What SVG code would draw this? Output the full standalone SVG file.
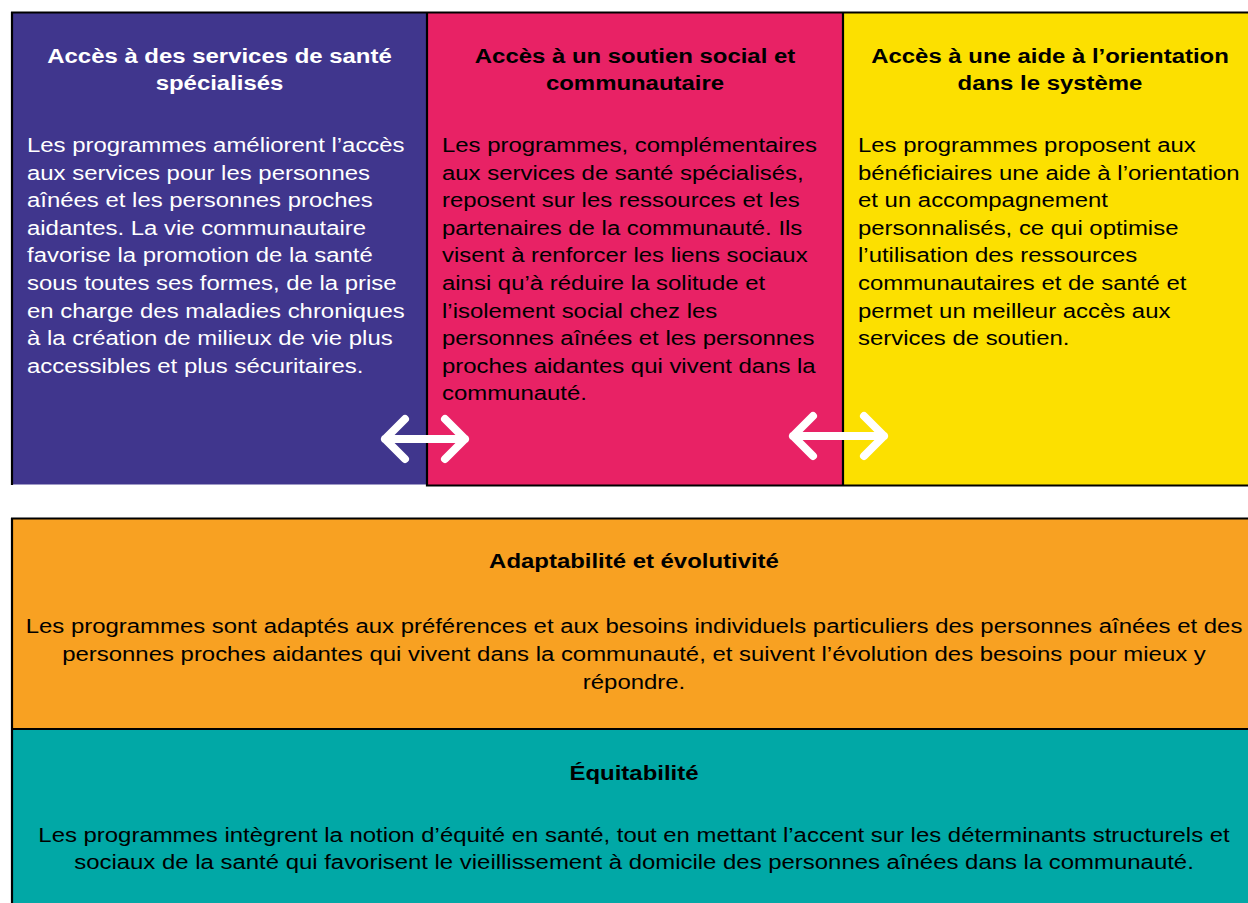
<svg xmlns="http://www.w3.org/2000/svg" width="1248" height="903" viewBox="0 0 1248 903">
<style>
.t{font-family:"Liberation Sans",Arial,Helvetica,sans-serif;font-size:21px}
.b{font-weight:bold}
.w{fill:#ffffff}
.k{fill:#000000}
.c{text-anchor:middle}
.edge{stroke:#000;stroke-width:2.2;fill:none}
.arrow{stroke:#ffffff;stroke-width:8;fill:none;stroke-linecap:round;stroke-linejoin:round}
</style>
<rect width="1248" height="903" fill="#ffffff"/>

<g id="node-sante">
<rect x="12" y="12" width="415" height="472.5" fill="#40368d"/>
<g transform="translate(219.5,0) scale(1.14,1)">
<text class="t b w c" x="0" y="63">Accès à des services de santé</text>
<text class="t b w c" x="0" y="90">spécialisés</text>
</g>
<g transform="translate(27,0) scale(1.14,1)">
<text class="t w" x="0" y="152">Les programmes améliorent l’accès</text>
<text class="t w" x="0" y="179.6">aux services pour les personnes</text>
<text class="t w" x="0" y="207.2">aînées et les personnes proches</text>
<text class="t w" x="0" y="234.8">aidantes. La vie communautaire</text>
<text class="t w" x="0" y="262.4">favorise la promotion de la santé</text>
<text class="t w" x="0" y="290">sous toutes ses formes, de la prise</text>
<text class="t w" x="0" y="317.6">en charge des maladies chroniques</text>
<text class="t w" x="0" y="345.2">à la création de milieux de vie plus</text>
<text class="t w" x="0" y="372.8">accessibles et plus sécuritaires.</text>
</g>
</g>

<g id="node-soutien">
<rect x="427" y="12" width="416" height="473.5" fill="#e82265"/>
<g transform="translate(635,0) scale(1.14,1)">
<text class="t b k c" x="0" y="63">Accès à un soutien social et</text>
<text class="t b k c" x="0" y="90">communautaire</text>
</g>
<g transform="translate(442,0) scale(1.14,1)">
<text class="t k" x="0" y="152">Les programmes, complémentaires</text>
<text class="t k" x="0" y="179.6">aux services de santé spécialisés,</text>
<text class="t k" x="0" y="207.2">reposent sur les ressources et les</text>
<text class="t k" x="0" y="234.8">partenaires de la communauté. Ils</text>
<text class="t k" x="0" y="262.4">visent à renforcer les liens sociaux</text>
<text class="t k" x="0" y="290">ainsi qu’à réduire la solitude et</text>
<text class="t k" x="0" y="317.6">l’isolement social chez les</text>
<text class="t k" x="0" y="345.2">personnes aînées et les personnes</text>
<text class="t k" x="0" y="372.8">proches aidantes qui vivent dans la</text>
<text class="t k" x="0" y="400.4">communauté.</text>
</g>
</g>

<g id="node-orientation">
<rect x="843" y="12" width="420" height="473.5" fill="#fce000"/>
<g transform="translate(1050,0) scale(1.14,1)">
<text class="t b k c" x="0" y="63">Accès à une aide à l’orientation</text>
<text class="t b k c" x="0" y="90">dans le système</text>
</g>
<g transform="translate(858,0) scale(1.14,1)">
<text class="t k" x="0" y="152">Les programmes proposent aux</text>
<text class="t k" x="0" y="179.6">bénéficiaires une aide à l’orientation</text>
<text class="t k" x="0" y="207.2">et un accompagnement</text>
<text class="t k" x="0" y="234.8">personnalisés, ce qui optimise</text>
<text class="t k" x="0" y="262.4">l’utilisation des ressources</text>
<text class="t k" x="0" y="290">communautaires et de santé et</text>
<text class="t k" x="0" y="317.6">permet un meilleur accès aux</text>
<text class="t k" x="0" y="345.2">services de soutien.</text>
</g>
</g>

<g id="node-adaptabilite">
<rect x="12" y="518.5" width="1250" height="210.5" fill="#f8a122"/>
<g transform="translate(634,0) scale(1.14,1)">
<text class="t b k c" x="0" y="568.5">Adaptabilité et évolutivité</text>
<text class="t k c" x="0" y="633.5">Les programmes sont adaptés aux préférences et aux besoins individuels particuliers des personnes aînées et des</text>
<text class="t k c" x="0" y="661.5">personnes proches aidantes qui vivent dans la communauté, et suivent l’évolution des besoins pour mieux y</text>
<text class="t k c" x="0" y="689.5">répondre.</text>
</g>
</g>

<g id="node-equitabilite">
<rect x="12" y="729" width="1250" height="180" fill="#01a8a6"/>
<g transform="translate(634,0) scale(1.14,1)">
<text class="t b k c" x="0" y="780">Équitabilité</text>
<text class="t k c" x="0" y="842">Les programmes intègrent la notion d’équité en santé, tout en mettant l’accent sur les déterminants structurels et</text>
<text class="t k c" x="0" y="869.5">sociaux de la santé qui favorisent le vieillissement à domicile des personnes aînées dans la communauté.</text>
</g>
</g>

<g id="borders">
<path class="edge" d="M11,12.5 H1248 M12,12 V485 M427,12 V486.5 M843,12 V486.5 M426,485.5 H1248"/>
<path class="edge" d="M11,518.5 H1248 M12,518 V903 M12,729 H1248"/>
</g>

<g id="connectors">
<path class="arrow" d="M385,439 H465 M405,419 L385,439 L405,459 M445,419 L465,439 L445,459"/>
<path class="arrow" d="M793,436 H884 M813,416 L793,436 L813,456 M864,416 L884,436 L864,456"/>
</g>
</svg>
